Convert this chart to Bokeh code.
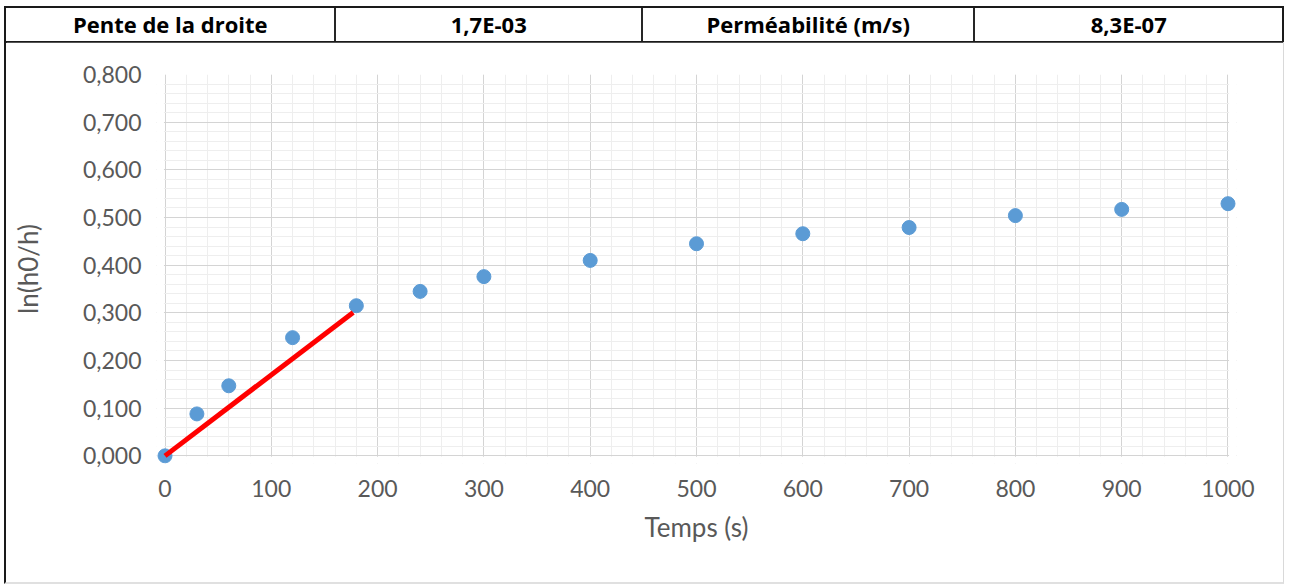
from bokeh.plotting import figure
from bokeh.models import Div, SingleIntervalTicker, CustomJSTickFormatter, Range1d, BoxAnnotation
from bokeh.layouts import column
from bokeh.embed import file_html
from bokeh.resources import INLINE

# ---- data ----
temps = [0, 30, 60, 120, 180, 240, 300, 400, 500, 600, 700, 800, 900, 1000]
ln_ratio = [0.000, 0.088, 0.147, 0.248, 0.315, 0.345, 0.376, 0.410,
            0.445, 0.466, 0.479, 0.504, 0.517, 0.529]
slope = 1.7e-3
fit_t = [0, 177]
fit_y = [slope * t for t in fit_t]
table_labels = ["Pente de la droite", "1,7E-03", "Perméabilité (m/s)", "8,3E-07"]
cell_widths = [331, 307, 333, 307]
x_start, x_end = 0, 1000
y_start, y_end = 0.0, 0.8

FONT = "Lato"
GREY = "#595959"

# ---- header table ----
cells = ""
for i, (lab, w) in enumerate(zip(table_labels, cell_widths)):
    br = "border-right:2px solid #262626;" if i < len(table_labels) - 1 else ""
    cells += (f'<div style="width:{w}px;height:100%;box-sizing:border-box;{br}'
              f'display:flex;align-items:center;justify-content:center;">{lab}</div>')
html = (f'<div style="position:absolute;left:4px;top:6px;width:1280px;height:37px;'
        f'box-sizing:border-box;border:2px solid #1a1a1a;display:flex;'
        f'font-family:\'Open Sans\';font-weight:bold;font-size:22px;color:#000;">{cells}</div>')
div = Div(text=html, width=1289, height=42, margin=0, styles={"position": "relative"})

# ---- chart ----
# ranges padded a little so edge markers are not clipped; the padding is masked below
p = figure(width=1280, height=542, output_backend="svg", toolbar_location=None,
           x_range=Range1d(x_start - 8, x_end + 8), y_range=Range1d(y_start - 0.016, y_end),
           min_border_left=150, min_border_right=50, min_border_top=32, min_border_bottom=121)
p.margin = (0, 0, 0, 4)
p.styles = {"border-left": "2px solid #1a1a1a", "border-right": "1px solid #d9d9d9",
            "border-bottom": "2px solid #e0e0e0", "box-sizing": "border-box"}
p.outline_line_color = None
p.background_fill_color = "white"

p.xaxis.ticker = SingleIntervalTicker(interval=100, num_minor_ticks=5)
p.yaxis.ticker = SingleIntervalTicker(interval=0.1, num_minor_ticks=5)
p.yaxis.formatter = CustomJSTickFormatter(code="return tick.toFixed(3).replace('.', ',');")

for ax in (p.xaxis, p.yaxis):
    ax.major_tick_line_color = None
    ax.minor_tick_line_color = None
    ax.axis_line_color = None
    ax.major_label_text_font = FONT
    ax.major_label_text_font_size = "23px"
    ax.major_label_text_color = GREY
    ax.axis_label_text_font = FONT
    ax.axis_label_text_font_size = "26px"
    ax.axis_label_text_color = GREY
    ax.axis_label_text_font_style = "normal"
p.xaxis.major_label_standoff = 10
p.yaxis.major_label_standoff = 9
p.xaxis.axis_label = "Temps (s)"
p.yaxis.axis_label = "ln(h0/h)"
p.xaxis.axis_label_standoff = 11
p.yaxis.axis_label_standoff = 36

p.xgrid.grid_line_color = "#d4d4d4"
p.ygrid.grid_line_color = "#d4d4d4"
p.xgrid.minor_grid_line_color = "#eeeeee"
p.ygrid.minor_grid_line_color = "#eeeeee"

# mask the grid in the padding around the 0..1000 x 0..0.8 area
mask = dict(fill_color="white", fill_alpha=1, line_color=None, level="underlay")
p.add_layout(BoxAnnotation(right=x_start - 1, **mask))
p.add_layout(BoxAnnotation(left=x_end + 1, **mask))
p.add_layout(BoxAnnotation(top=y_start - 0.002, **mask))

p.scatter(temps, ln_ratio, size=14, color="#5B9BD5", line_color="#5B9BD5")
p.line(fit_t, fit_y, line_color="#FF0000", line_width=5)

layout = column(div, p)
open("out.html", "w").write(file_html(layout, INLINE))
